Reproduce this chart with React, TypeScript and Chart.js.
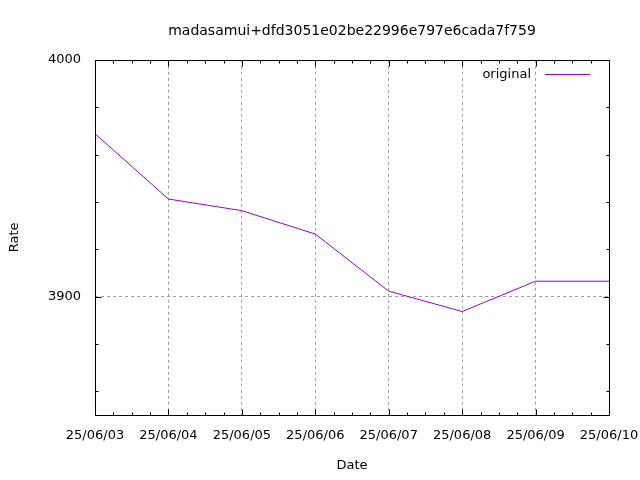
import React, { useEffect, useRef } from 'react';
import { Chart, registerables } from 'chart.js';

Chart.register(...registerables);

// ---- data ----
const chartTitle = 'madasamui+dfd3051e02be22996e797e6cada7f759';
const xAxisTitle = 'Date';
const yAxisTitle = 'Rate';
const seriesLabel = 'original';
const dates = ['25/06/03', '25/06/04', '25/06/05', '25/06/06', '25/06/07', '25/06/08', '25/06/09', '25/06/10'];
const rates = [3968.8, 3941.2, 3936.3, 3926.4, 3902.3, 3893.7, 3906.5, 3906.5];
const yMin = 3850;
const yMax = 4000;
const yMajorTicks = [3900, 4000];
const yMinorTicks = [3860, 3880, 3920, 3940, 3960, 3980];
const xMinorPerInterval = 3;

const FONT = '"DejaVu Sans", sans-serif';
const LINE_COLOR = '#9400d3';
const GRID_COLOR = '#a0a0a0';

const gnuFrame = {
  id: 'gnuFrame',
  afterDatasetsDraw(chart: any) {
    const { ctx, chartArea, scales } = chart;
    const L = Math.round(chartArea.left) + 0.5;
    const R = Math.round(chartArea.right) + 0.5;
    const T = Math.round(chartArea.top) + 0.5;
    const B = Math.round(chartArea.bottom) + 0.5;
    const MAJ = 6;
    const MIN = 3;
    ctx.save();
    ctx.strokeStyle = '#000';
    ctx.lineWidth = 1;
    ctx.setLineDash([]);
    ctx.beginPath();
    ctx.rect(L, T, R - L, B - T);
    // x ticks
    const xs = scales.x;
    for (let i = 0; i < dates.length; i++) {
      const px = Math.round(xs.getPixelForValue(i)) + 0.5;
      ctx.moveTo(px, B); ctx.lineTo(px, B - MAJ);
      ctx.moveTo(px, T); ctx.lineTo(px, T + MAJ);
      if (i < dates.length - 1) {
        const nx = xs.getPixelForValue(i + 1);
        const cx = xs.getPixelForValue(i);
        for (let k = 1; k <= xMinorPerInterval; k++) {
          const mx = Math.round(cx + ((nx - cx) * k) / (xMinorPerInterval + 1)) + 0.5;
          ctx.moveTo(mx, B); ctx.lineTo(mx, B - MIN);
          ctx.moveTo(mx, T); ctx.lineTo(mx, T + MIN);
        }
      }
    }
    // y ticks
    const ys = scales.y;
    yMajorTicks.forEach((v) => {
      const py = Math.round(ys.getPixelForValue(v)) + 0.5;
      ctx.moveTo(L, py); ctx.lineTo(L + MAJ, py);
      ctx.moveTo(R, py); ctx.lineTo(R - MAJ, py);
    });
    yMinorTicks.forEach((v) => {
      const py = Math.round(ys.getPixelForValue(v)) + 0.5;
      ctx.moveTo(L, py); ctx.lineTo(L + MIN, py);
      ctx.moveTo(R, py); ctx.lineTo(R - MIN, py);
    });
    ctx.stroke();

    // legend (gnuplot style: text then line sample, inside top-right)
    const ds = chart.data.datasets[0];
    const ly = Math.round(chartArea.top + 14) + 0.5;
    ctx.font = '13px ' + FONT;
    ctx.fillStyle = '#000';
    ctx.textAlign = 'right';
    ctx.textBaseline = 'middle';
    ctx.fillText(ds.label, chartArea.right - 78, ly);
    ctx.strokeStyle = ds.borderColor;
    ctx.beginPath();
    ctx.moveTo(chartArea.right - 64, ly);
    ctx.lineTo(chartArea.right - 19, ly);
    ctx.stroke();
    ctx.restore();
  },
};

export default function App() {
  const ref = useRef<HTMLCanvasElement | null>(null);
  useEffect(() => {
    if (!ref.current) return;
    Chart.defaults.font.family = FONT;
    Chart.defaults.font.size = 13;
    Chart.defaults.color = '#000';
    const chart = new Chart(ref.current, {
      type: 'line',
      data: {
        labels: dates,
        datasets: [
          {
            label: seriesLabel,
            data: rates,
            borderColor: LINE_COLOR,
            backgroundColor: LINE_COLOR,
            borderWidth: 1,
            pointRadius: 0,
            pointHoverRadius: 0,
            tension: 0,
            fill: false,
          },
        ],
      },
      options: {
        responsive: false,
        animation: false,
        devicePixelRatio: 1,
        layout: { padding: { left: 0, right: 31, top: 0, bottom: 0 } },
        plugins: {
          legend: { display: false },
          tooltip: { enabled: false },
          title: {
            display: true,
            text: chartTitle,
            fullSize: false,
            color: '#000',
            font: { family: FONT, size: 14, weight: 'normal' },
            padding: { top: 23, bottom: 20 },
          },
        },
        scales: {
          x: {
            type: 'category',
            offset: false,
            afterFit: (s: any) => { s.height = 65; s.paddingLeft = 0; s.paddingRight = 0; },
            grid: {
              display: true,
              offset: false,
              drawTicks: false,
              lineWidth: 1,
              color: (c: any) => (c.index === 0 || c.index === dates.length - 1 ? 'rgba(0,0,0,0)' : GRID_COLOR),
            },
            border: { display: false, dash: [3, 3] },
            ticks: { autoSkip: false, maxRotation: 0, minRotation: 0, padding: 13, color: '#000', font: { family: FONT, size: 13 } },
            title: { display: true, text: xAxisTitle, color: '#000', font: { family: FONT, size: 13 }, padding: { top: 0, bottom: 7 } },
          },
          y: {
            type: 'linear',
            min: yMin,
            max: yMax,
            afterFit: (s: any) => { s.width = 95; },
            grid: {
              display: true,
              drawTicks: false,
              lineWidth: 1,
              color: (c: any) => (c.tick && c.tick.value === yMajorTicks[0] ? GRID_COLOR : 'rgba(0,0,0,0)'),
            },
            border: { display: false, dash: [3, 3] },
            ticks: {
              stepSize: 20,
              autoSkip: false,
              padding: 14,
              color: '#000',
              font: { family: FONT, size: 13 },
              callback: (v: any) => (yMajorTicks.includes(Number(v)) ? String(v) : ''),
            },
            title: { display: true, text: yAxisTitle, color: '#000', font: { family: FONT, size: 13 }, padding: { top: 7, bottom: 0 } },
          },
        },
      },
      plugins: [gnuFrame],
    });
    return () => chart.destroy();
  }, []);
  return (
    <canvas
      ref={ref}
      width={640}
      height={480}
      style={{ position: 'absolute', left: 0, top: 0, display: 'block' }}
    />
  );
}
